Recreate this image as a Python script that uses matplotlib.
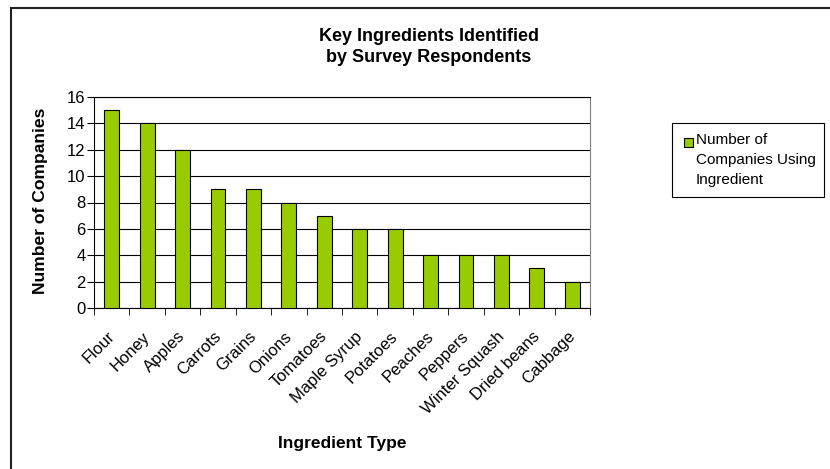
import matplotlib.pyplot as plt
import matplotlib.transforms as mtransforms
import numpy as np
from matplotlib.patches import Rectangle

plt.rcParams['font.family'] = ['Liberation Sans', 'DejaVu Sans']

ingredients = ['Flour', 'Honey', 'Apples', 'Carrots', 'Grains', 'Onions', 'Tomatoes',
               'Maple Syrup', 'Potatoes', 'Peaches', 'Peppers', 'Winter Squash',
               'Dried beans', 'Cabbage']
companies = [15, 14, 12, 9, 9, 8, 7, 6, 6, 4, 4, 4, 3, 2]
series_name = 'Number of\nCompanies Using\nIngredient'
bar_color = '#99CC00'

W, H = 830, 469
fig = plt.figure(figsize=(8.3, 4.69), dpi=100)
ax = fig.add_axes([94/W, 1-308/H, (590-94)/W, (308-97)/H])

x = np.arange(len(ingredients))
ax.bar(x, companies, width=0.42, color=bar_color, edgecolor='black', linewidth=0.8,
       zorder=3)

ax.set_xlim(-0.5, len(ingredients) - 0.5)
ax.set_ylim(0, 16)
ax.set_yticks(range(0, 17, 2))
ax.yaxis.grid(True, color='black', linewidth=0.8, zorder=0)
ax.tick_params(axis='y', labelsize=12, length=5, pad=1, direction='out')

ax.set_xticks(x)
ax.set_xticklabels(ingredients, rotation=45, ha='right', va='top',
                   rotation_mode='anchor', fontsize=12)
ax.tick_params(axis='x', which='major', length=0, pad=15)
shift = mtransforms.ScaledTranslation(-5/100, 0, fig.dpi_scale_trans)
for lab in ax.get_xticklabels():
    lab.set_transform(lab.get_transform() + shift)
ax.set_xticks(np.arange(-0.5, len(ingredients)), minor=True)
ax.tick_params(axis='x', which='minor', length=5, direction='out')

ax.spines['right'].set_color('#808080')
for s in ['top', 'left', 'bottom']:
    ax.spines[s].set_color('black')

fig.text(429/W, 1-47/H, 'Key Ingredients Identified\nby Survey Respondents',
         ha='center', va='center', fontsize=13, fontweight='bold', linespacing=1.35)
fig.text(40/W, 1-201/H, 'Number of Companies', rotation=90, ha='center',
         va='center', fontsize=12.6, fontweight='bold')
fig.text(342/W, 1-443/H, 'Ingredient Type', ha='center', va='center',
         fontsize=12.5, fontweight='bold')

# legend box drawn by hand so the marker sits on the first line
fig.patches.append(Rectangle((672/W, 1-197/H), (824-672)/W, (197-123)/H,
                             transform=fig.transFigure, fill=False,
                             edgecolor='black', linewidth=0.8))
fig.patches.append(Rectangle((684/W, 1-147/H), 9/W, 9/H, transform=fig.transFigure,
                             facecolor=bar_color, edgecolor='black', linewidth=0.8))
fig.text(696/W, 1-133/H, series_name, ha='left', va='top', fontsize=11,
         linespacing=1.55)

fig.patches.append(Rectangle((11/W, -0.1), 1.0, 1-8/H+0.1, transform=fig.transFigure,
                             fill=False, edgecolor='#222222', linewidth=1.5))

fig.savefig('out.png', dpi=100)
